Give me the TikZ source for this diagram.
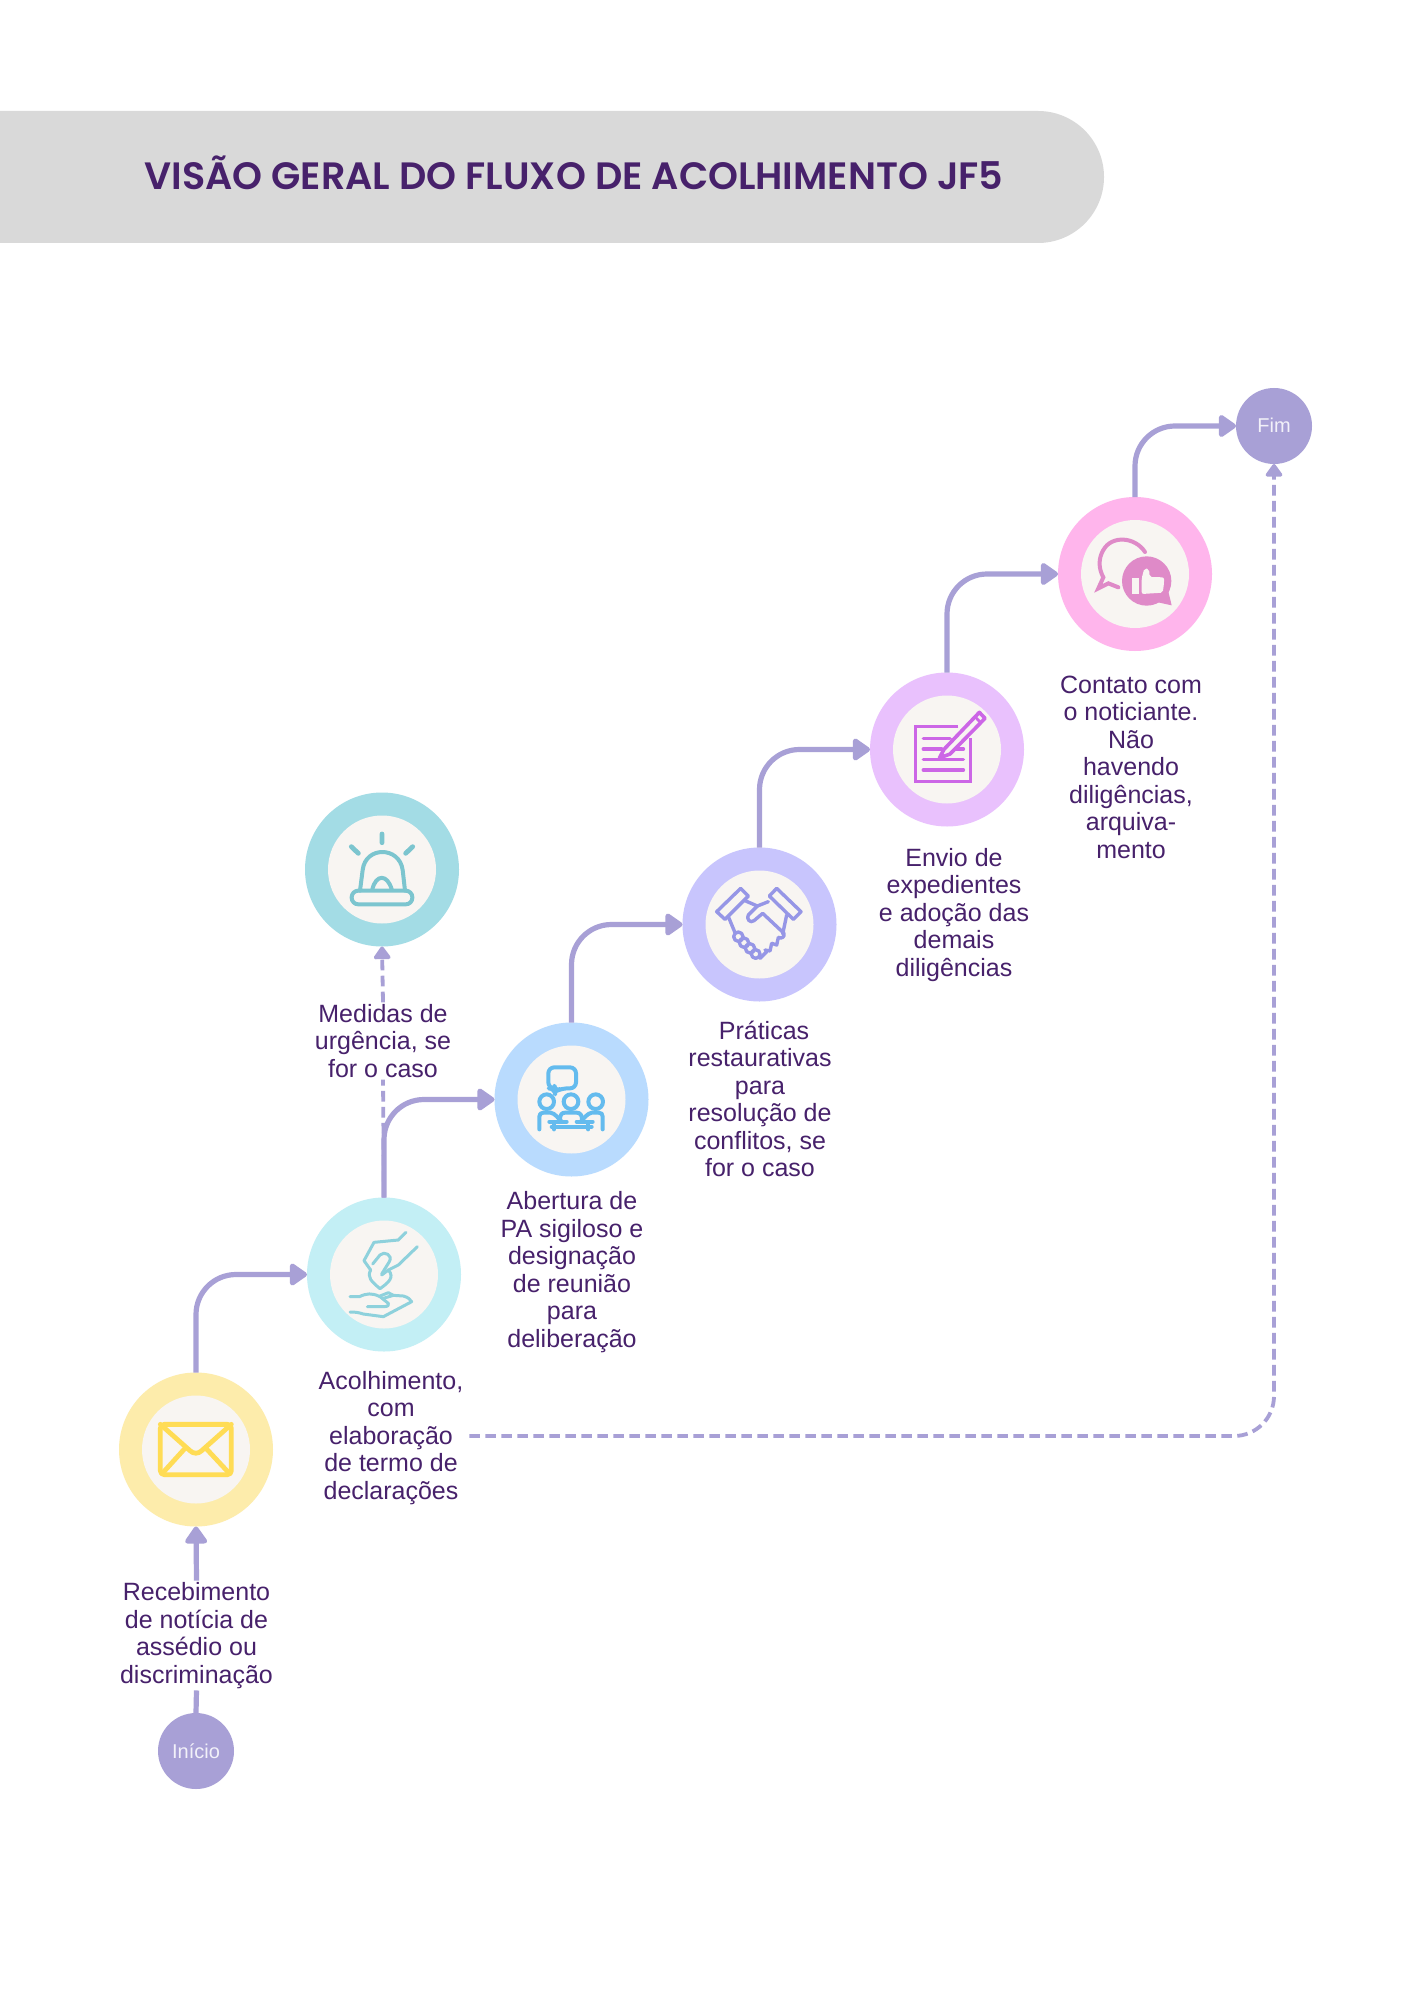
\documentclass[tikz,border=0pt]{standalone}
\usepackage{fontspec}
\setmainfont{Liberation Sans}
\newfontfamily\titlefont{Poppins}[UprightFont=* SemiBold]
\usetikzlibrary{arrows.meta}
\definecolor{ink}{HTML}{47216B}
\definecolor{flow}{HTML}{A8A0D6}
\definecolor{core}{HTML}{F8F5F2}
\definecolor{bannerc}{HTML}{D9D9D9}
\definecolor{ryellow}{HTML}{FDECAB}
\definecolor{rcyan}{HTML}{C3EFF5}
\definecolor{rteal}{HTML}{A3DCE5}
\definecolor{rblue}{HTML}{B9DBFE}
\definecolor{rviolet}{HTML}{C8C5FD}
\definecolor{rlilac}{HTML}{E9C1FD}
\definecolor{rpink}{HTML}{FFB5EC}
\definecolor{iyellow}{HTML}{FFDC55}
\definecolor{ihand}{HTML}{8ED1DC}
\definecolor{ialarm}{HTML}{7CC5CF}
\definecolor{ipeople}{HTML}{64BBEE}
\definecolor{ishake}{HTML}{9696E6}
\definecolor{idoc}{HTML}{CC66E6}
\definecolor{ithumb}{HTML}{DF8AC8}
\tikzset{
  ringbox/.style={circle,minimum size=77pt,inner sep=0pt,outer sep=0pt,fill=#1},
  corebox/.style={circle,minimum size=54pt,inner sep=0pt,outer sep=0pt,fill=core},
  endbox/.style={circle,minimum size=38pt,inner sep=0pt,outer sep=0pt,fill=flow,text=white!85!flow,font=\fontsize{10}{12}\selectfont},
  labelbox/.style={align=center,text=ink,inner sep=1pt,outer sep=0pt,font=\fontsize{12.5}{13.75}\selectfont},
  flowline/.style={draw=flow,line width=2.6pt,rounded corners=20pt},
  flowarrow/.style={flowline,-{Triangle[length=9.5pt,width=12.5pt,round]}},
  dashline/.style={draw=flow,line width=1.9pt,dash pattern=on 5.3pt off 2.7pt,rounded corners=20pt},
  dasharrow/.style={dashline,-{Triangle[length=7pt,width=9.5pt,round]}},
  zoomed/.style 2 args={shift={(#1,#2)},x=0.16667pt,y=-0.16667pt},
  iconline/.style={draw=#1,fill=none,line width=2pt,line cap=round,line join=round},
}
\begin{document}
\begin{tikzpicture}[x=0.5pt,y=-0.5pt]
\useasboundingbox (0,0) rectangle (1414,2000);
\fill[white] (0,0) rectangle (1414,2000);
\fill[bannerc] (0,111) -- (1038,111) arc[start angle=90,end angle=-90,radius=33pt] -- (0,243) -- cycle;
\node[text=ink,inner sep=0pt] (title) at (574,173) {\titlefont\fontsize{19.05}{22}\selectfont VISÃO GERAL DO FLUXO DE ACOLHIMENTO JF5};

% rings
\node[ringbox=ryellow] (env) at (196,1449.5) {};
\node[ringbox=rcyan] (aco) at (384,1274.5) {};
\node[ringbox=rteal] (med) at (382,869.5) {};
\node[ringbox=rblue] (aba) at (571.5,1099.5) {};
\node[ringbox=rviolet] (pra) at (759.5,924.5) {};
\node[ringbox=rlilac] (evi) at (947,749.5) {};
\node[ringbox=rpink] (con) at (1135,574) {};
\node[corebox] (envc) at (env) {};
\node[corebox] (acoc) at (aco) {};
\node[corebox] (medc) at (med) {};
\node[corebox] (abac) at (aba) {};
\node[corebox] (prac) at (pra) {};
\node[corebox] (evic) at (evi) {};
\node[corebox] (conc) at (con) {};
\node[endbox] (ini) at (196,1751) {Início};
\node[endbox] (fim) at (1274,426) {\raisebox{1pt}{Fim}};

% labels
\node[labelbox] (reclab) at (196.5,1635.5) {Recebimento\\de notícia de\\assédio ou\\discriminação};
\node[labelbox] (acolab) at (391,1438) {Acolhimento,\\com\\elaboração\\de termo de\\declarações};
\node[labelbox] (medlab) at (383,1041) {Medidas de\\urgência, se\\for o caso};
\node[labelbox] (abalab) at (572,1272) {Abertura de\\PA sigiloso e\\designação\\de reunião\\para\\deliberação};
\node[labelbox] (pralab) at (760,1099) {\hspace{4pt}Práticas\\restaurativas\\para\\resolução de\\conflitos, se\\for o caso};
\node[labelbox] (evilab) at (954,915) {Envio de\\expedientes\\e adoção das\\demais\\diligências};
\node[labelbox] (conlab) at (1131,767) {Contato com\\o noticiante.\\Não\\havendo\\diligências,\\arquiva-\\mento};

% connectors
\draw[flowline] (ini.north) -- (reclab.south);
\draw[flowarrow] (reclab.north) -- (env.south);
\draw[flowarrow] (env.north) |- (aco.west);
\draw[flowarrow] (aco.north) |- (aba.west);
\draw[flowarrow] (aba.north) |- (pra.west);
\draw[flowarrow] (pra.north) |- (evi.west);
\draw[flowarrow] (evi.north) |- (con.west);
\draw[flowarrow] (con.north) |- (fim.west);
\draw[dashline] (aco.north) -- (medlab.south);
\draw[dasharrow] (medlab.north) -- (med.south);
\coordinate (acoout) at ([xshift=2pt,yshift=1pt]acolab.east);
\draw[dasharrow] (acoout) -| (fim.south);

% envelope icon
\begin{scope}[zoomed={100}{1360}]
\draw[iconline=iyellow,line width=2.4pt,rounded corners=2pt] (181,193) rectangle (394,344);
\draw[iconline=iyellow,line width=2.4pt] (181,193) -- (270,272) .. controls (280,282) and (295,282) .. (305,272) -- (394,193);
\draw[iconline=iyellow,line width=2.4pt] (187,340) -- (255,265) (388,340) -- (318,265);
\end{scope}

% hands icon
\begin{scope}[zoomed={300}{1190}]
\draw[iconline=ihand,line width=1.5pt] (318,127) -- (295,150) -- (222,157) -- (192,212) -- (212,240);
\draw[iconline=ihand,line width=1.5pt] (218,222) -- (240,195) .. controls (252,182) and (280,195) .. (268,215) -- (245,252);
\draw[iconline=ihand,line width=1.5pt] (352,170) -- (295,225) -- (265,240) -- (245,255);
\draw[iconline=ihand,line width=1.5pt] (212,240) .. controls (200,262) and (215,275) .. (240,296) .. controls (265,278) and (285,262) .. (265,240);
\draw[iconline=ihand,line width=1.5pt] (150,320) -- (178,320) .. controls (200,310) and (215,308) .. (240,320) -- (265,340) .. controls (268,345) and (265,350) .. (250,350) -- (202,350);
\draw[iconline=ihand,line width=1.5pt] (240,318) -- (265,308) -- (280,316) -- (310,318) .. controls (325,322) and (330,328) .. (335,335) -- (250,380) -- (190,372) .. controls (175,367) and (165,366) .. (150,366);
\draw[iconline=ihand,line width=1.5pt] (250,325) -- (280,316);
\end{scope}

% alarm icon
\begin{scope}[zoomed={280}{770}]
\draw[iconline=ialarm,rounded corners=3.3pt] (215,362) rectangle (397,403);
\draw[iconline=ialarm] (240,362) -- (248,300) .. controls (256,228) and (358,228) .. (368,300) -- (375,362);
\draw[iconline=ialarm] (277,358) .. controls (288,312) and (322,312) .. (335,358);
\draw[iconline=ialarm,line width=2.4pt] (306,192) -- (306,218) (214,230) -- (235,250) (398,230) -- (377,250);
\end{scope}

% people icon
\begin{scope}[zoomed={280}{770}]
\draw[iconline=ipeople,rounded corners=3pt] (805,892) -- (888,892) -- (888,955) -- (845,955) -- (825,965) -- (824,955) -- (805,955) -- cycle;
\draw[iconline=ipeople] (800,995) circle[radius=22] (873,995) circle[radius=22] (947,995) circle[radius=22];
\draw[iconline=ipeople] (778,1078) -- (778,1040) .. controls (778,1032) and (782,1028) .. (790,1028) -- (812,1028) .. controls (825,1030) and (835,1045) .. (845,1055);
\draw[iconline=ipeople] (840,1048) .. controls (840,1035) and (845,1028) .. (855,1028) -- (890,1028) .. controls (900,1028) and (906,1035) .. (906,1048);
\draw[iconline=ipeople] (968,1078) -- (968,1040) .. controls (968,1032) and (964,1028) .. (956,1028) -- (935,1028) .. controls (922,1030) and (912,1045) .. (902,1055);
\draw[iconline=ipeople] (808,1055) -- (860,1055) (890,1055) -- (938,1055) (815,1070) -- (935,1070) (822,1060) -- (822,1078) (925,1060) -- (925,1078);
\end{scope}

% handshake icon
\begin{scope}[zoomed={670}{650}]
\draw[iconline=ishake,line width=1.7pt] (212,715) -- (235,738) -- (165,808) -- (140,785) -- cycle;
\draw[iconline=ishake,line width=1.7pt] (320,715) -- (393,785) -- (370,808) -- (298,738) -- cycle;
\draw[iconline=ishake,line width=1.7pt] (175,800) -- (195,848) (225,752) -- (262,768) -- (295,755) (350,795) -- (338,852);
\draw[iconline=ishake,line width=1.7pt] (262,768) -- (235,795) .. controls (228,805) and (240,822) .. (252,812) -- (278,790) -- (342,850) .. controls (345,860) and (335,868) .. (325,862) (325,862) -- (320,885) -- (305,880) (305,880) -- (300,903) -- (285,900) (290,905) -- (270,925);
\draw[iconline=ishake,line width=1.7pt] (205,860) circle[radius=14] (222,878) circle[radius=14] (240,895) circle[radius=14] (257,912) circle[radius=13];
\end{scope}

% document icon
\begin{scope}[zoomed={670}{650}]
\draw[iconline=idoc,line width=1.8pt,line cap=butt,line join=miter] (865,230) -- (737,230) -- (737,395) -- (902,395) -- (902,265);
\draw[iconline=idoc,line width=1.8pt] (760,265) -- (840,265) (760,297) -- (815,297) (850,297) -- (880,297) (760,328) -- (880,328) (760,360) -- (880,360);
\draw[iconline=idoc,fill=core,line width=1.8pt] (822,298) -- (928,187) -- (945,205) -- (840,312) -- (808,324) -- cycle;
\draw[iconline=idoc,line width=1.4pt] (915,200) -- (932,218);
\fill[idoc] (808,324) -- (815,307) -- (828,318) -- cycle;
\end{scope}

% thumbs icon
\begin{scope}[zoomed={1040}{370}]
\draw[iconline=ithumb,line join=miter] (315,546) .. controls (285,500) and (215,495) .. (190,540) .. controls (175,565) and (175,595) .. (190,622) -- (175,655) -- (205,640) -- (235,652);
\fill[ithumb] (320,633) circle[radius=74];
\fill[ithumb] (360,680) -- (385,665) -- (395,706) -- (345,695) -- cycle;
\fill[core] (275,625) rectangle (298,672);
\fill[core,rounded corners=1pt] (305,625) -- (313,595) -- (327,597) -- (329,621) -- (372,622) -- (372,640) -- (368,668) -- (305,672) -- cycle;
\end{scope}
\end{tikzpicture}
\end{document}
